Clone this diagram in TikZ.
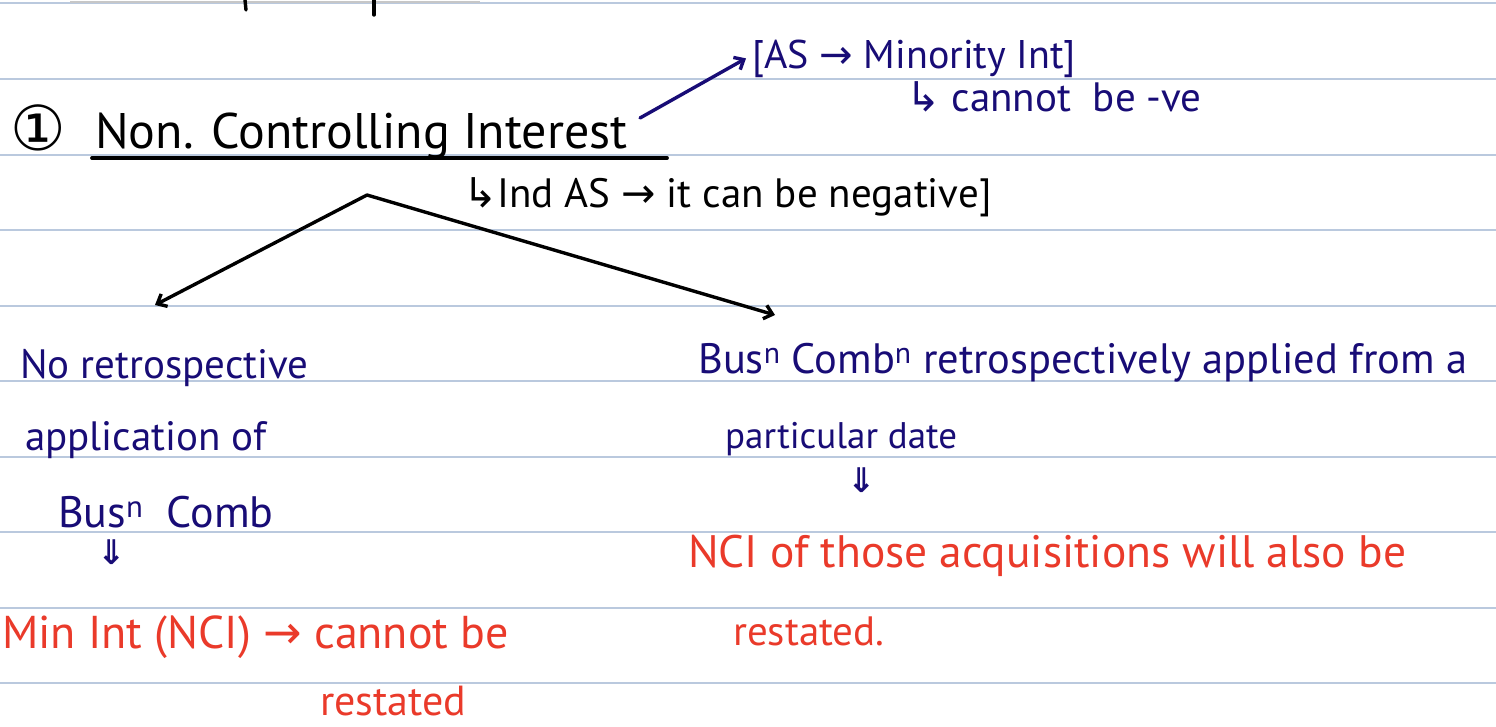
\documentclass[tikz,border=0pt]{standalone}
\usepackage{fontspec}
\setmainfont{PT Sans}
\newfontfamily\symfont{DejaVu Sans}
\usetikzlibrary{arrows.meta,positioning}

\definecolor{inkblue}{RGB}{24,12,118}
\definecolor{inkred}{RGB}{234,58,42}
\definecolor{ruleblue}{RGB}{186,201,222}

\tikzset{
  ruled/.style={ruleblue, line width=1.5pt},
  pen/.style={black, line width=3.4pt, line cap=round},
  bluepen/.style={inkblue, line width=3.4pt, line cap=round},
  tipbarb/.style={-{Straight Barb[length=8pt,width=14pt]}},
  note/.style={anchor=base west, inner sep=0pt, font=\fontsize{41}{43}\selectfont},
  bluenote/.style={note, text=inkblue},
  rednote/.style={note, text=inkred},
  blacknote/.style={note, text=black},
  dblarrow/.style={anchor=center, inner sep=0pt, text=inkblue, font=\fontsize{34}{36}\selectfont\symfont\bfseries},
}

\begin{document}
\begin{tikzpicture}[x=1pt,y=-1pt]
\useasboundingbox (0,0) rectangle (1496,726);
\fill[white] (0,0) rectangle (1496,726);

\foreach \y in {3,79,155,230,306,381,457,532,608,683}
  \draw[ruled] (0,\y) -- (1496,\y);

\draw[black!22, line width=2pt] (70,2) -- (480,2);
\draw[pen] (245,0) -- (246,10);
\draw[pen] (374,0) -- (374,15);

% heading
\node[blacknote, font=\fontsize{62}{64}\selectfont\symfont] (num) at (10,150) {①};
\node[blacknote, font=\fontsize{50}{52}\selectfont] (title) at (95,148) {Non. Controlling Interest};
\draw[pen, line width=3.8pt] (92,158) -- (667,158);

\node[bluenote, font=\fontsize{40}{42}\selectfont] (asnote) at (752,68) {[AS {\symfont →} Minority Int]};
\node[bluenote, font=\fontsize{41}{43}\selectfont] (noneg) at (906,111) {{\symfont ↳} cannot\ \ be -ve};
\coordinate (titleend) at (640,118);
\draw[bluepen, tipbarb] (titleend) -- ([xshift=-6pt]asnote.west);

\node[blacknote, font=\fontsize{41}{43}\selectfont] (indas) at (463,207) {{\symfont ↳}Ind AS {\symfont →} it can be negative]};

% branches
\coordinate (apex) at (367,195);
\coordinate (lefttip) at (155,305);
\coordinate (righttip) at (775,315);
\draw[pen, tipbarb] (apex) -- (lefttip);
\draw[pen, tipbarb] (apex) -- (righttip);

% left branch
\node[bluenote] (noretro) at (20,378) {No retrospective};
\node[bluenote] (applic) at (25,450) {application of};
\node[bluenote, font=\fontsize{44}{46}\selectfont] (busn) at (58,527) {Bus\textsuperscript{n}\ \ Comb};
\node[dblarrow] (down1) at (112,552) {⇓};
\node[rednote, font=\fontsize{46}{48}\selectfont] (minint) at (2,648) {Min Int (NCI) {\symfont →} cannot be};
\node[rednote, font=\fontsize{42}{44}\selectfont] (restl) at (320,715) {restated};

% right branch
\node[bluenote, font=\fontsize{42.5}{44}\selectfont] (retro) at (698,373) {Bus\textsuperscript{n} Comb\textsuperscript{n} retrospectively applied from a};
\node[bluenote, font=\fontsize{37}{39}\selectfont] (pdate) at (725,448) {particular date};
\node[dblarrow] (down2) at (862,480) {⇓};
\node[rednote, font=\fontsize{45.5}{47}\selectfont] (ncire) at (688,567) {NCI of those acquisitions will also be};
\node[rednote] (restr) at (733,645) {restated.};

\end{tikzpicture}
\end{document}
